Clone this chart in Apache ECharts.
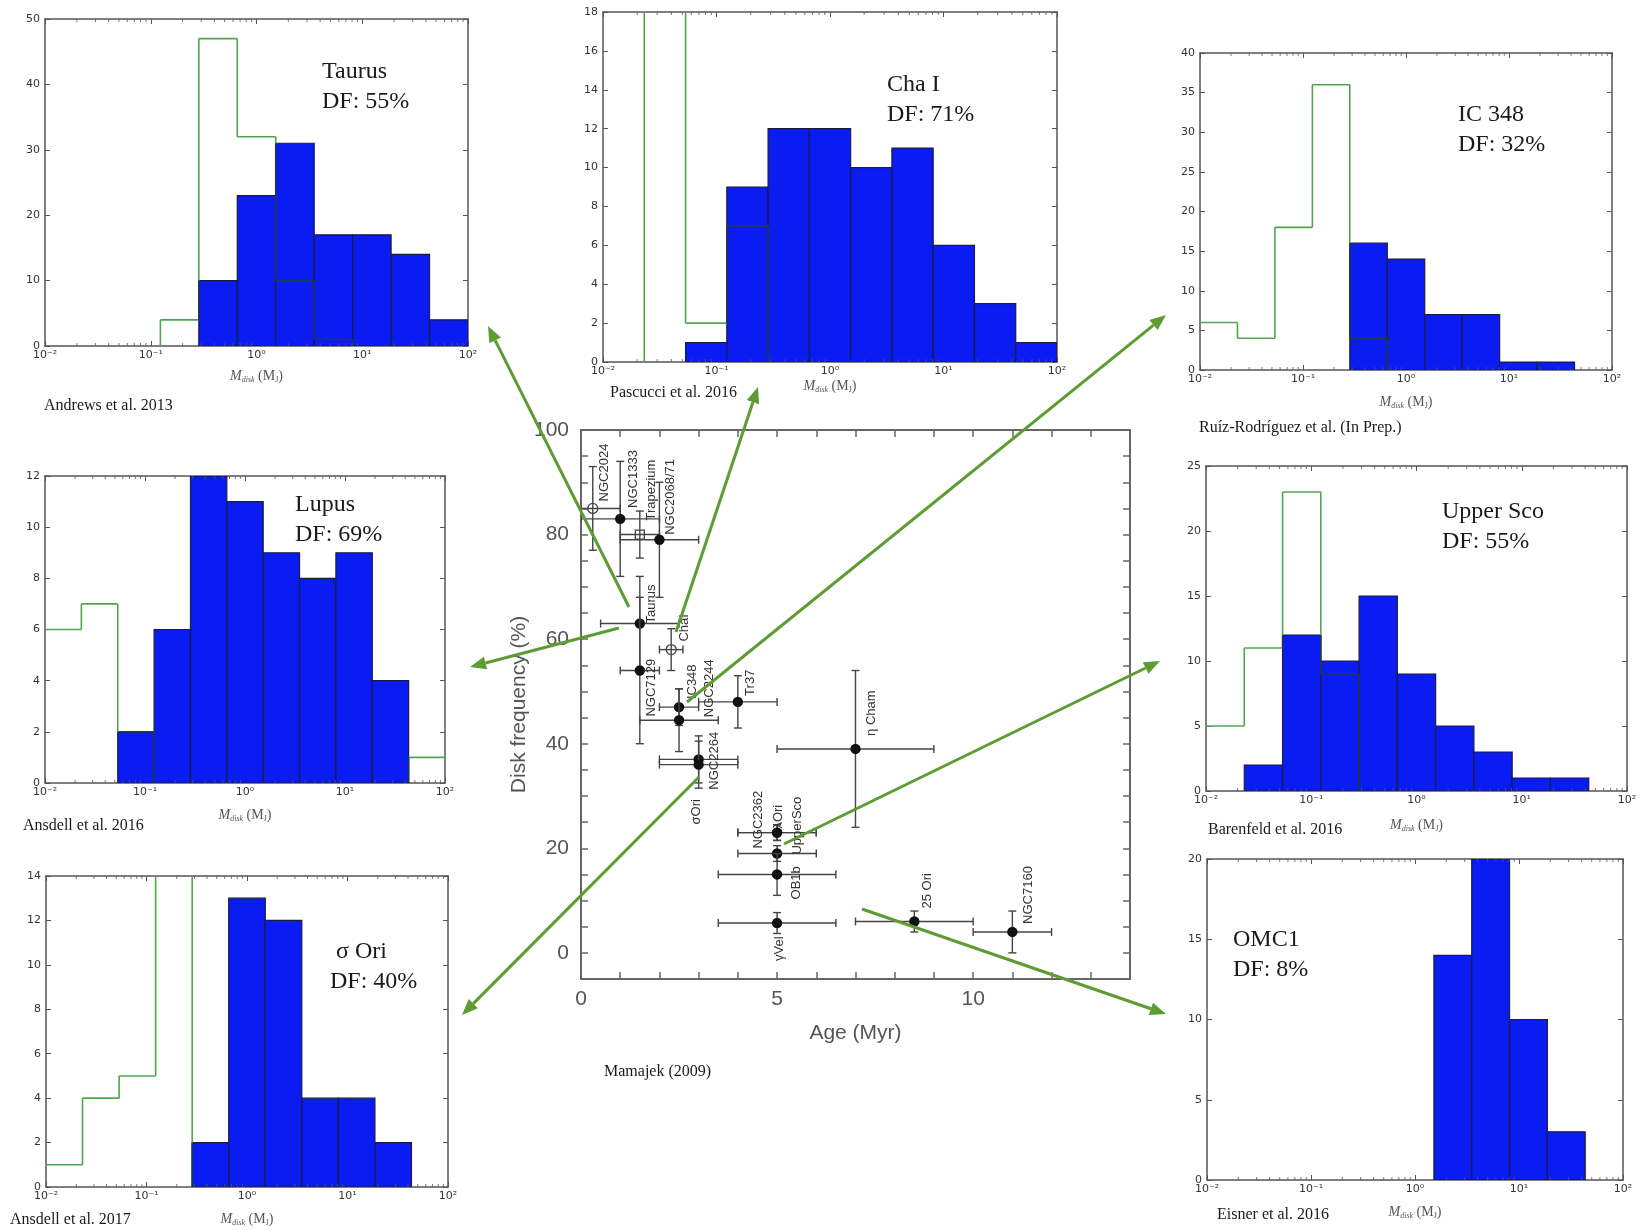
<!DOCTYPE html>
<html>
<head>
<meta charset="utf-8">
<title>Disk mass distributions and disk frequency vs age</title>
<script src="https://cdn.jsdelivr.net/npm/echarts@6/dist/echarts.min.js"></script>
<style>
  html, body { margin: 0; padding: 0; background: #fff; }
  #main { width: 1647px; height: 1230px; }
</style>
</head>
<body>
<div id="main"></div>
<script>
// ---- data ----
// histogram bin edges in M_disk (M_J): 11 log bins from 1e-2 to 1e2
var massEdges = [0.01, 0.0231, 0.0534, 0.1233, 0.2848, 0.6579, 1.520, 3.511, 8.111, 18.74, 43.29, 100];
var massTicks = ['10⁻²', '10⁻¹', '10⁰', '10¹', '10²'];

// counts per bin, blue = measured disks, green = step histogram of the rest
var taurusDisk = [0, 0, 0, 0, 10, 23, 31, 17, 17, 14, 4];
var taurusAll  = [0, 0, 0, 4, 47, 32, 10, 1, 0, 0, 0];
var chaDisk    = [0, 0, 1, 9, 12, 12, 10, 11, 6, 3, 1];
var chaAll     = [0, 24, 2, 7, 0, 0, 0, 0, 0, 0, 0];
var ic348Disk  = [0, 0, 0, 0, 16, 14, 7, 7, 1, 1, 0];
var ic348All   = [6, 4, 18, 36, 4, 0, 0, 0, 0, 0, 0];
var lupusDisk  = [0, 0, 2, 6, 12, 11, 9, 8, 9, 4, 0];
var lupusAll   = [6, 7, 2, 0, 0, 0, 0, 0, 0, 0, 1];
var uscoDisk   = [0, 2, 12, 10, 15, 9, 5, 3, 1, 1, 0];
var uscoAll    = [5, 11, 23, 9, 0, 0, 0, 0, 0, 0, 0];
var sigOriDisk = [0, 0, 0, 0, 2, 13, 12, 4, 4, 2, 0];
var sigOriAll  = [1, 4, 5, 20, 0, 0, 0, 0, 0, 0, 0];
var omc1Disk   = [0, 0, 0, 0, 0, 0, 14, 20, 10, 3, 0];
var omc1All    = [0, 0, 0, 0, 0, 0, 0, 0, 0, 0, 0];

var panelDisk = [taurusDisk, chaDisk, ic348Disk, lupusDisk, uscoDisk, sigOriDisk, omc1Disk];
var panelAll  = [taurusAll, chaAll, ic348All, lupusAll, uscoAll, sigOriAll, omc1All];
var panelYMax  = [50, 18, 40, 12, 25, 14, 20];
var panelYStep = [10, 2, 5, 2, 5, 2, 5];
var panelTitles = ['Taurus\nDF: 55%', 'Cha I\nDF: 71%', 'IC 348\nDF: 32%', 'Lupus\nDF: 69%',
                   'Upper Sco\nDF: 55%', ' σ Ori\nDF: 40%', 'OMC1\nDF: 8%'];
var panelRefs = ['Andrews et al. 2013', 'Pascucci et al. 2016', 'Ruíz-Rodríguez et al. (In Prep.)',
                 'Ansdell et al. 2016', 'Barenfeld et al. 2016', 'Ansdell et al. 2017', 'Eisner et al. 2016'];

// Mamajek (2009): disk frequency vs age
var clusterNames = ['NGC2024', 'NGC1333', 'Trapezium', 'NGC2068/71', 'Taurus', 'ChaI', 'NGC7129',
                    'IC348', 'NGC2244', 'Tr37', 'σOri', 'NGC2264', 'η Cham', 'NGC2362', 'λOri',
                    'UpperSco', 'OB1b', 'γVel', '25 Ori', 'NGC7160'];
var clusterAge    = [0.3, 1.0, 1.5, 2.0, 1.5, 2.3, 1.5, 2.5, 2.5, 4.0, 3.0, 3.0, 7.0, 5.0, 5.0, 5.0, 5.0, 5.0, 8.5, 11.0];
var clusterAgeErr = [0.7, 1.0, 0.5, 1.0, 1.0, 0.3, 0.5, 0.5, 1.0, 1.0, 1.0, 1.0, 2.0, 1.0, 1.0, 1.0, 1.5, 1.5, 1.5, 1.0];
var clusterFreq    = [85, 83, 80, 79, 63, 58, 54, 47, 44.5, 48, 37, 36, 39, 23, 23, 19, 15, 5.7, 6, 4];
var clusterFreqErr = [8, 11, 4.5, 11, 9, 4, 14, 3.5, 6, 5, 4.5, 4.5, 15, 1.5, 1.5, 1.5, 4, 2, 2, 4];
var clusterMarker  = ['circle', 'filled', 'square', 'filled', 'filled', 'circle', 'filled', 'filled',
                      'filled', 'filled', 'filled', 'filled', 'filled', 'filled', 'filled', 'filled',
                      'filled', 'filled', 'filled', 'filled'];
var ageTicks  = [0, 5, 10];
var freqTicks = [0, 20, 40, 60, 80, 100];

// ---- layout & style ----
var panelBox = [[45, 19, 423, 327], [603, 12, 454, 350], [1200, 53, 412, 317], [45, 476, 400, 307],
                [1206, 466, 421, 325], [46, 876, 402, 311], [1207, 859, 416, 321]];
var titlePos = [[322, 57], [887, 70], [1458, 100], [295, 490], [1442, 497], [330, 937], [1233, 925]];
var refPos   = [[44, 398], [610, 385], [1199, 420], [23, 818], [1208, 822], [10, 1212], [1217, 1207]];
var nameGaps = [22, 12, 24, 24, 26, 24, 24];
var labelShift = [[12, -7], [13, -11], [12, -14], [11, -5], [12, 0], [13, -8], [12, 46], [13, -8],
                  [30, -3], [13, -6], [-2, 65], [16, 25], [16, -13], [-19, 16], [1, -4], [20, 1],
                  [19, 25], [2, 38], [13, -13], [16, -8]];
var arrowPaths = [[629, 607, 488, 326], [676, 632, 758, 387], [687, 702, 1166, 315], [619, 628, 470, 667],
                  [699, 777, 462, 1015], [784, 844, 1160, 661], [862, 909, 1166, 1014]];

var BAR_FILL = '#0b1cf2', BAR_EDGE = '#1b1b44';
var STEP_GREEN = '#4fa64f', STEP_DARK = '#1d3a4c';
var FRAME = '#555', ARROW = '#5c9c33';
var SERIF = '"Liberation Serif", "DejaVu Serif", serif';

// minor log ticks 2..9 x 10^k inside each histogram frame
var minorMass = [];
[0.01, 0.1, 1, 10].forEach(function (d) {
    for (var m = 2; m <= 9; m++) minorMass.push([m * d, 0]);
});

var chart = echarts.init(document.getElementById('main'));

var grids = [], xAxes = [], yAxes = [], series = [], titles = [];

function stepSegments(all, disk) {
    var segs = [];
    for (var k = 0; k < all.length; k++) {
        if (all[k] > 0) {
            segs.push([massEdges[k], all[k], massEdges[k + 1], all[k], all[k] <= disk[k] ? 1 : 0]);
        }
        if (k > 0 && all[k] !== all[k - 1]) {
            var lo = Math.min(all[k], all[k - 1]), hi = Math.max(all[k], all[k - 1]);
            var cover = Math.max(disk[k], disk[k - 1]);
            if (cover > lo) segs.push([massEdges[k], lo, massEdges[k], Math.min(hi, cover), 1]);
            if (hi > cover) segs.push([massEdges[k], Math.max(lo, cover), massEdges[k], hi, 0]);
        }
    }
    return segs;
}

panelBox.forEach(function (b, i) {
    grids.push({left: b[0], top: b[1], width: b[2], height: b[3]});
    var frame = {show: true, onZero: false, lineStyle: {color: FRAME, width: 1.5}};
    var tick = {show: true, inside: true, length: 5, lineStyle: {color: FRAME, width: 1}};
    xAxes.push({
        type: 'log', logBase: 10, gridIndex: i, min: 0.01, max: 100, position: 'bottom',
        axisLine: frame, axisTick: tick, splitLine: {show: false},
        axisLabel: {
            color: '#333', fontSize: 11, fontFamily: 'DejaVu Sans', margin: 4,
            formatter: function (v) { return massTicks[Math.round(Math.log(v) / Math.LN10) + 2]; }
        },
        name: '{i|M}{s|disk} (M{j|J})', nameLocation: 'middle', nameGap: nameGaps[i],
        nameTextStyle: {
            fontFamily: SERIF, fontSize: 14, color: '#555', lineHeight: 16,
            rich: {
                i: {fontFamily: SERIF, fontStyle: 'italic', fontSize: 14, color: '#555', lineHeight: 16},
                s: {fontFamily: SERIF, fontStyle: 'italic', fontSize: 8, color: '#555', verticalAlign: 'bottom', lineHeight: 16},
                j: {fontFamily: SERIF, fontSize: 8, color: '#555', verticalAlign: 'bottom', lineHeight: 16}
            }
        }
    });
    xAxes.push({
        type: 'log', logBase: 10, gridIndex: i, min: 0.01, max: 100, position: 'top',
        axisLine: frame, axisTick: tick, splitLine: {show: false}, axisLabel: {show: false}
    });
    yAxes.push({
        type: 'value', gridIndex: i, min: 0, max: panelYMax[i], interval: panelYStep[i], position: 'left',
        axisLine: frame, axisTick: tick, splitLine: {show: false},
        axisLabel: {color: '#333', fontSize: 11, fontFamily: 'DejaVu Sans', margin: 5}
    });
    yAxes.push({
        type: 'value', gridIndex: i, min: 0, max: panelYMax[i], interval: panelYStep[i], position: 'right',
        axisLine: frame, axisTick: tick, splitLine: {show: false}, axisLabel: {show: false}
    });

    var bars = [];
    panelDisk[i].forEach(function (c, k) {
        if (c > 0) bars.push([massEdges[k], massEdges[k + 1], c]);
    });
    series.push({
        type: 'custom', xAxisIndex: i * 2, yAxisIndex: i * 2, data: bars, z: 2, clip: true,
        encode: {x: [0, 1], y: 2},
        renderItem: function (params, api) {
            var p0 = api.coord([api.value(0), 0]);
            var p1 = api.coord([api.value(1), api.value(2)]);
            return {
                type: 'rect',
                shape: {x: p0[0], y: p1[1], width: p1[0] - p0[0], height: p0[1] - p1[1]},
                style: {fill: BAR_FILL, stroke: BAR_EDGE, lineWidth: 1.2}
            };
        }
    });
    series.push({
        type: 'custom', xAxisIndex: i * 2, yAxisIndex: i * 2, data: stepSegments(panelAll[i], panelDisk[i]),
        z: 3, clip: true, encode: {x: [0, 2], y: [1, 3]},
        renderItem: function (params, api) {
            var a = api.coord([api.value(0), api.value(1)]);
            var c = api.coord([api.value(2), api.value(3)]);
            return {
                type: 'line',
                shape: {x1: a[0], y1: a[1], x2: c[0], y2: c[1]},
                style: {stroke: api.value(4) ? STEP_DARK : STEP_GREEN, lineWidth: 1.6}
            };
        }
    });
    var ymax = panelYMax[i];
    series.push({
        type: 'custom', xAxisIndex: i * 2, yAxisIndex: i * 2, data: minorMass, z: 4, clip: false,
        encode: {x: 0, y: 1},
        renderItem: function (params, api) {
            var lo = api.coord([api.value(0), 0]);
            var hi = api.coord([api.value(0), ymax]);
            var st = {stroke: FRAME, lineWidth: 0.8};
            return {type: 'group', children: [
                {type: 'line', shape: {x1: lo[0], y1: lo[1], x2: lo[0], y2: lo[1] - 3}, style: st},
                {type: 'line', shape: {x1: hi[0], y1: hi[1], x2: hi[0], y2: hi[1] + 3}, style: st}
            ]};
        }
    });

    titles.push({
        text: panelTitles[i], left: titlePos[i][0], top: titlePos[i][1], padding: 0,
        textStyle: {fontFamily: SERIF, fontSize: 24, fontWeight: 'normal', color: '#1a1a1a', lineHeight: 30}
    });
    titles.push({
        text: panelRefs[i], left: refPos[i][0], top: refPos[i][1], padding: 0,
        textStyle: {fontFamily: SERIF, fontSize: 16, fontWeight: 'normal', color: '#1a1a1a'}
    });
});

// central panel: disk frequency vs age
var C = panelBox.length;
grids.push({left: 581, top: 430, width: 549, height: 549});
var cFrame = {show: true, onZero: false, lineStyle: {color: '#666', width: 2}};
var cTick = {show: true, inside: true, length: 7, lineStyle: {color: '#666', width: 1.5}};
var cLabel = {color: '#555', fontSize: 21, fontFamily: '"Liberation Sans", Arial, sans-serif'};
xAxes.push({
    type: 'value', gridIndex: C, min: 0, max: 14, interval: 1, position: 'bottom',
    axisLine: cFrame, axisTick: cTick, splitLine: {show: false},
    axisLabel: Object.assign({margin: 10, formatter: function (v) {
        return ageTicks.indexOf(v) >= 0 ? String(v) : '';
    }}, cLabel),
    name: 'Age (Myr)', nameLocation: 'middle', nameGap: 44, nameTextStyle: cLabel
});
xAxes.push({
    type: 'value', gridIndex: C, min: 0, max: 14, interval: 1, position: 'top',
    axisLine: cFrame, axisTick: cTick, splitLine: {show: false}, axisLabel: {show: false}
});
yAxes.push({
    type: 'value', gridIndex: C, min: -5, max: 100, interval: 5, position: 'left',
    axisLine: cFrame, axisTick: cTick, splitLine: {show: false},
    axisLabel: Object.assign({margin: 12, formatter: function (v) {
        return freqTicks.indexOf(v) >= 0 ? String(v) : '';
    }}, cLabel),
    name: 'Disk frequency (%)', nameLocation: 'middle', nameRotate: 90, nameGap: 48, nameTextStyle: cLabel
});
yAxes.push({
    type: 'value', gridIndex: C, min: -5, max: 100, interval: 5, position: 'right',
    axisLine: cFrame, axisTick: cTick, splitLine: {show: false}, axisLabel: {show: false}
});

var clusterData = clusterNames.map(function (n, i) {
    return [clusterAge[i], clusterFreq[i], clusterAgeErr[i], clusterFreqErr[i]];
});

function seg(x1, y1, x2, y2) {
    return {type: 'line', shape: {x1: x1, y1: y1, x2: x2, y2: y2}, style: {stroke: '#444', lineWidth: 1.4}};
}

series.push({
    type: 'custom', xAxisIndex: C * 2, yAxisIndex: C * 2, data: clusterData, z: 4, clip: true,
    encode: {x: 0, y: 1},
    renderItem: function (params, api) {
        var i = params.dataIndex;
        var x = api.value(0), y = api.value(1), xe = api.value(2), ye = api.value(3);
        var c = api.coord([x, y]);
        var l = api.coord([x - xe, y]), r = api.coord([x + xe, y]);
        var t = api.coord([x, y + ye]), b = api.coord([x, y - ye]);
        var cap = 4;
        var kids = [
            seg(l[0], c[1], r[0], c[1]), seg(l[0], c[1] - cap, l[0], c[1] + cap), seg(r[0], c[1] - cap, r[0], c[1] + cap),
            seg(c[0], t[1], c[0], b[1]), seg(c[0] - cap, t[1], c[0] + cap, t[1]), seg(c[0] - cap, b[1], c[0] + cap, b[1])
        ];
        var m = clusterMarker[i];
        if (m === 'filled') {
            kids.push({type: 'circle', shape: {cx: c[0], cy: c[1], r: 5.2}, style: {fill: '#111'}});
        } else if (m === 'circle') {
            kids.push({type: 'circle', shape: {cx: c[0], cy: c[1], r: 5}, style: {fill: 'none', stroke: '#444', lineWidth: 1.3}});
        } else {
            kids.push({type: 'rect', shape: {x: c[0] - 4.5, y: c[1] - 4.5, width: 9, height: 9}, style: {fill: 'none', stroke: '#444', lineWidth: 1.3}});
        }
        return {type: 'group', children: kids};
    }
});

series.push({
    type: 'custom', xAxisIndex: C * 2, yAxisIndex: C * 2, data: clusterData, z: 5, clip: false,
    encode: {x: 0, y: 1},
    renderItem: function (params, api) {
        var i = params.dataIndex;
        var p = api.coord([api.value(0), api.value(1)]);
        return {
            type: 'text', x: p[0] + labelShift[i][0], y: p[1] + labelShift[i][1], rotation: Math.PI / 2,
            style: {
                text: clusterNames[i], fill: '#333', fontSize: 13,
                fontFamily: '"Liberation Sans", Arial, sans-serif', align: 'left', verticalAlign: 'middle'
            }
        };
    }
});

titles.push({
    text: 'Mamajek (2009)', left: 604, top: 1064, padding: 0,
    textStyle: {fontFamily: SERIF, fontSize: 16, fontWeight: 'normal', color: '#1a1a1a'}
});

// green pointer arrows
var graphics = [];
arrowPaths.forEach(function (a) {
    var ang = Math.atan2(a[3] - a[1], a[2] - a[0]);
    var L = 16, W = 6.5;
    var bx = a[2] - L * Math.cos(ang), by = a[3] - L * Math.sin(ang);
    var px = -Math.sin(ang) * W, py = Math.cos(ang) * W;
    graphics.push({type: 'line', z: 100, shape: {x1: a[0], y1: a[1], x2: bx, y2: by},
        style: {stroke: ARROW, lineWidth: 3}});
    graphics.push({type: 'polygon', z: 100, shape: {points: [[a[2], a[3]], [bx + px, by + py], [bx - px, by - py]]},
        style: {fill: ARROW}});
});

chart.setOption({
    animation: false,
    backgroundColor: '#fff',
    title: titles,
    grid: grids,
    xAxis: xAxes,
    yAxis: yAxes,
    series: series,
    graphic: graphics
});
</script>
</body>
</html>
